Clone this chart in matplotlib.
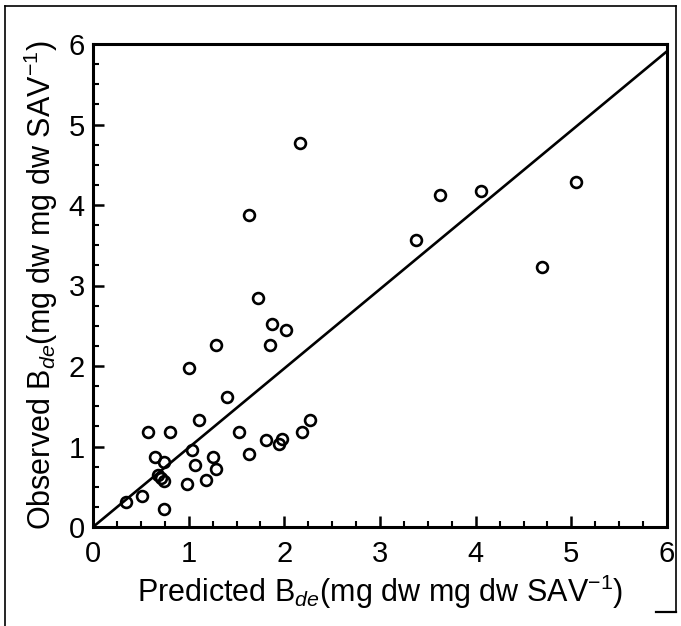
import matplotlib
matplotlib.use("Agg")
import matplotlib.pyplot as plt
from matplotlib.ticker import MultipleLocator
from matplotlib.lines import Line2D

plt.rcParams['font.family'] = ['Liberation Sans', 'DejaVu Sans']
plt.rcParams['mathtext.fontset'] = 'custom'
plt.rcParams['mathtext.rm'] = 'Liberation Sans'
plt.rcParams['mathtext.it'] = 'Liberation Sans:italic'

predicted = [0.34, 0.51, 0.74, 0.68, 0.71, 0.74, 0.65, 0.74, 0.57, 0.81,
             1.00, 1.03, 1.07, 0.98, 1.18, 1.25, 1.29, 1.11, 1.29, 1.40,
             1.53, 1.63, 1.81, 1.94, 1.98, 2.18, 2.27, 1.85, 1.87, 2.02,
             1.72, 1.63, 2.16, 3.38, 3.63, 4.06, 4.69, 5.05]
observed = [0.31, 0.39, 0.22, 0.64, 0.61, 0.57, 0.87, 0.81, 1.18, 1.18,
            1.97, 0.96, 0.77, 0.53, 0.58, 0.87, 0.72, 1.33, 2.26, 1.61,
            1.18, 0.91, 1.08, 1.03, 1.09, 1.18, 1.33, 2.26, 2.52, 2.45,
            2.85, 3.88, 4.77, 3.57, 4.12, 4.17, 3.23, 4.28]
line_x = [0, 6]
line_slope = 0.985

fig = plt.figure(figsize=(6.81, 6.26), dpi=100)
ax = fig.add_axes([93/681, 99/626, 574/681, 483/626])

ax.plot(line_x, [v * line_slope for v in line_x], color='black', lw=1.9, zorder=2)
ax.plot(predicted, observed, linestyle='none', marker='o', markersize=7.8,
        markerfacecolor='none', markeredgecolor='black', markeredgewidth=1.9, zorder=3)

ax.set_xlim(0, 6)
ax.set_ylim(0, 6)
ax.xaxis.set_major_locator(MultipleLocator(1))
ax.yaxis.set_major_locator(MultipleLocator(1))
ax.xaxis.set_minor_locator(MultipleLocator(0.25))
ax.yaxis.set_minor_locator(MultipleLocator(0.25))
for s in ax.spines.values():
    s.set_linewidth(2.2)
ax.tick_params(which='major', direction='in', length=8, width=1.8, labelsize=21,
               top=False, right=False)
ax.tick_params(which='minor', direction='in', length=4, width=1.5,
               top=False, right=False)
ax.tick_params(axis='x', which='major', pad=9)
ax.tick_params(axis='y', which='major', pad=6)

ax.set_xlabel(r"Predicted B$_{de}$(mg dw mg dw SAV$^{-1}$)", fontsize=22, labelpad=4)
ax.set_ylabel(r"Observed B$_{de}$(mg dw mg dw SAV$^{-1}$)", fontsize=22, labelpad=6)

# outer frame
fig.add_artist(Line2D([5/681, 5/681], [0, 1 - 6/626], transform=fig.transFigure, color='black', lw=1.2))
fig.add_artist(Line2D([5/681, 676/681], [1 - 6/626, 1 - 6/626], transform=fig.transFigure, color='black', lw=1.2))
fig.add_artist(Line2D([676/681, 676/681], [1 - 6/626, 14/626], transform=fig.transFigure, color='black', lw=1.2))
fig.add_artist(Line2D([656/681, 676/681], [14/626, 14/626], transform=fig.transFigure, color='black', lw=1.6))

fig.savefig("out.png", dpi=100)
